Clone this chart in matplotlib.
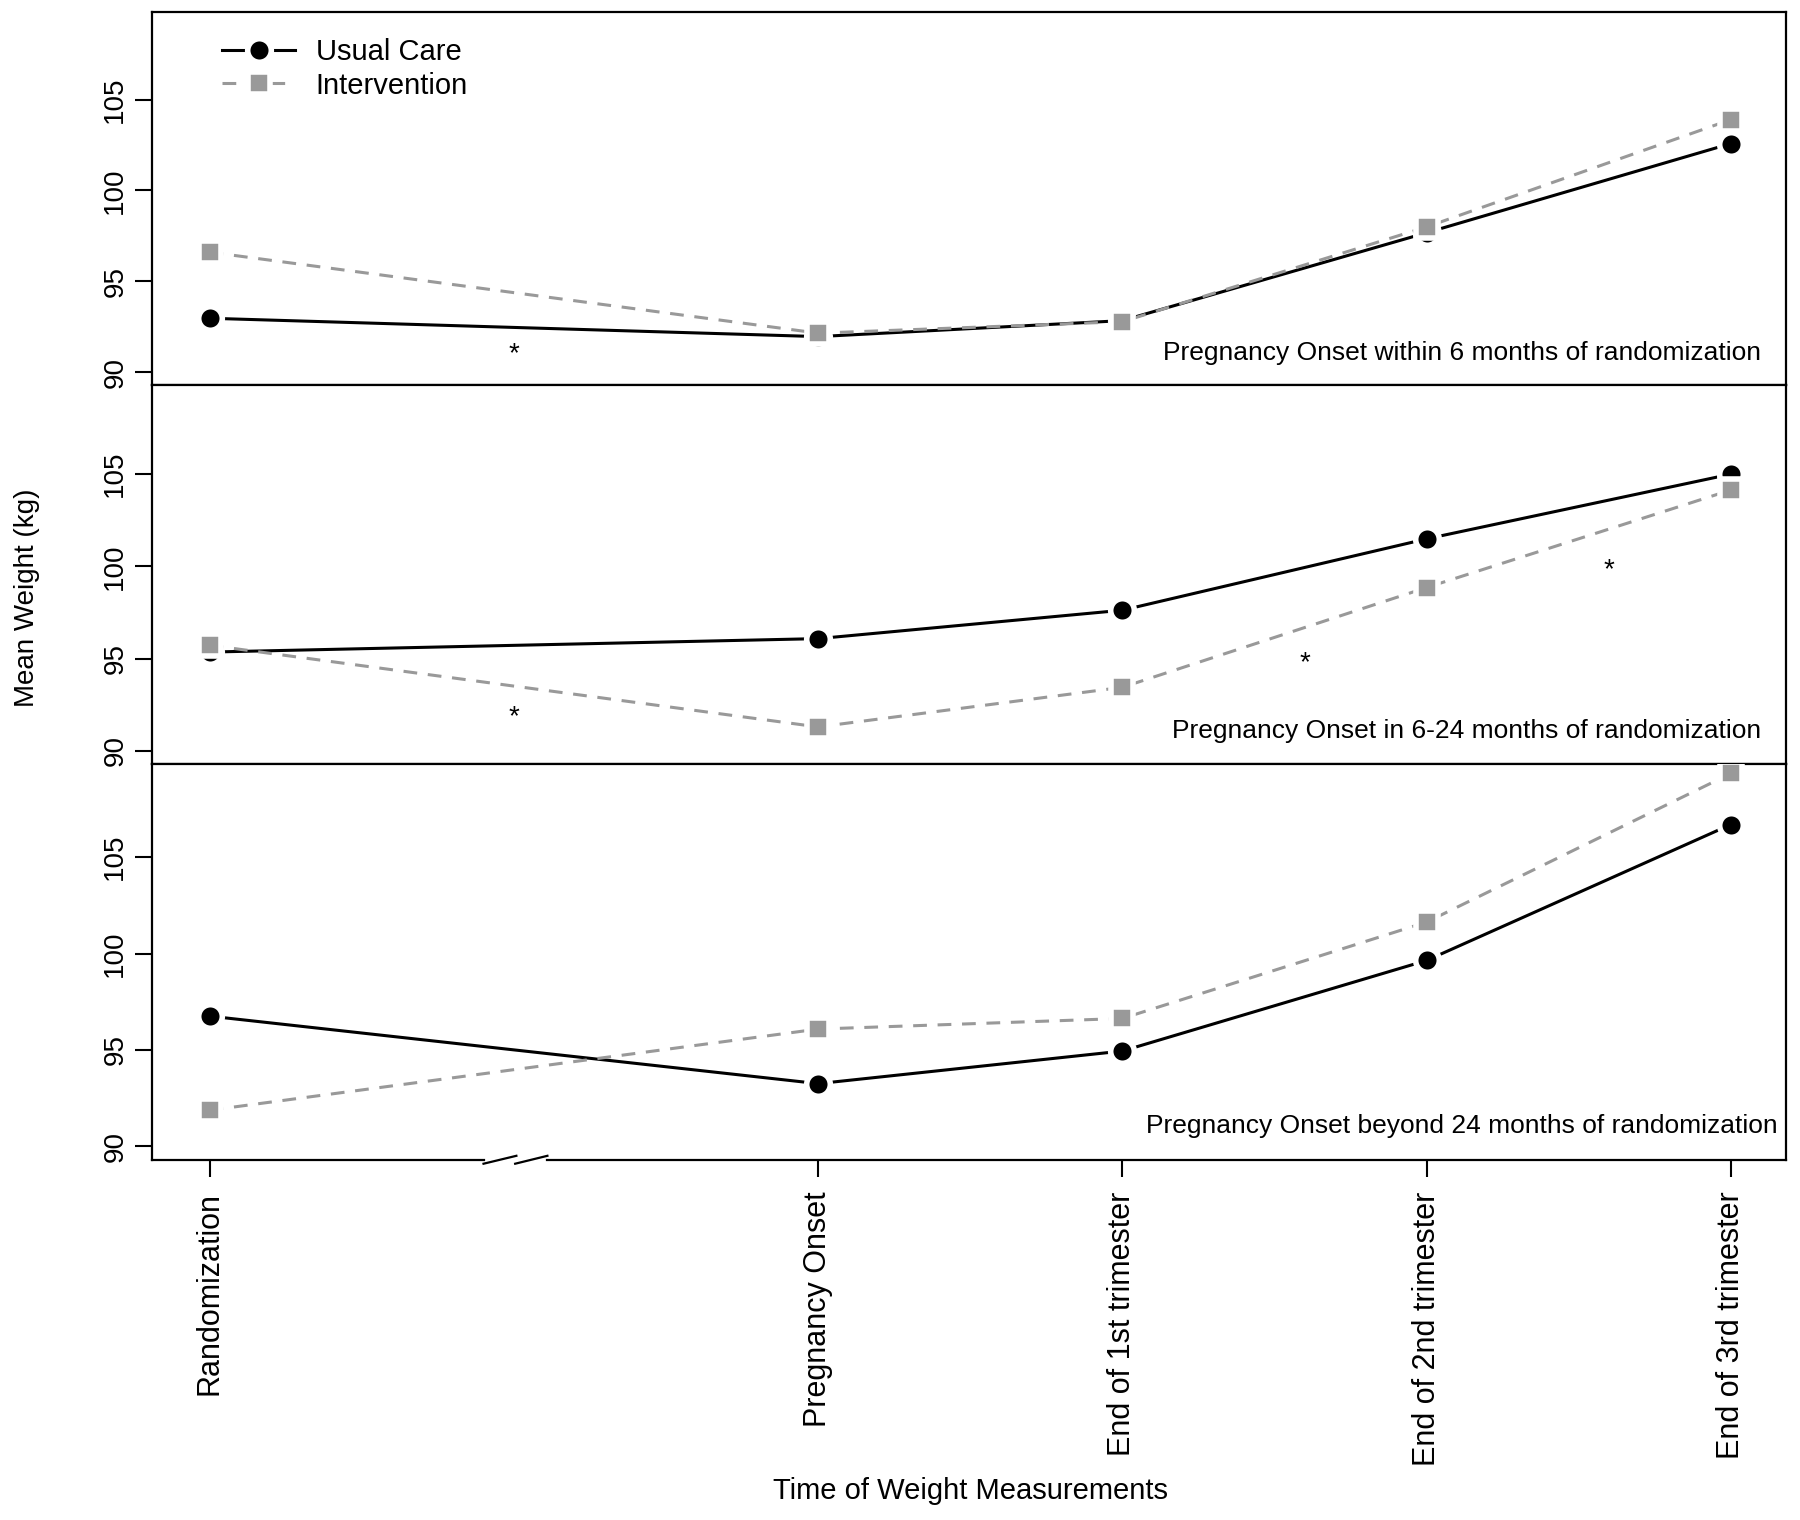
import matplotlib
matplotlib.use("Agg")
from matplotlib import pyplot as plt
from matplotlib import transforms

plt.rcParams["font.family"] = ["Liberation Sans", "DejaVu Sans"]

# time points (randomization -> pregnancy onset has an axis break in between)
time_labels = ["Randomization", "Pregnancy Onset", "End of 1st trimester",
               "End of 2nd trimester", "End of 3rd trimester"]
time_pos = [0, 2, 3, 4, 5]
break_pos = 1.0

panel_titles = [
    "Pregnancy Onset within 6 months of randomization",
    "Pregnancy Onset in 6-24 months of randomization",
    "Pregnancy Onset beyond 24 months of randomization",
]

usual_care = [
    [92.96, 91.95, 92.83, 97.67, 102.58],
    [95.35, 96.08, 97.62, 101.49, 105.0],
    [96.75, 93.25, 94.94, 99.64, 106.69],
]
intervention = [
    [96.6, 92.14, 92.77, 97.99, 103.9],
    [95.72, 91.29, 93.44, 98.85, 104.14],
    [91.87, 96.08, 96.63, 101.63, 109.34],
]

# significance stars (x, y) per panel
stars_x = [[1.0], [1.0, 3.6, 4.6], []]
stars_y = [[91.0], [91.8, 94.75, 99.8], []]

yticks = [90, 95, 100, 105]

fig, axes = plt.subplots(3, 1, figsize=(18, 15.2), dpi=100, sharex=True,
                         gridspec_kw={"height_ratios": [325, 330, 345], "hspace": 0})
fig.subplots_adjust(left=0.0844, right=0.992, top=0.9924, bottom=0.237)

for i, ax in enumerate(axes):
    ax.plot(time_pos, usual_care[i], "-", color="black", lw=2.2,
            marker="o", ms=17, mfc="black", mec="white", mew=4,
            label="Usual Care", zorder=3)
    ax.plot(time_pos, intervention[i], "--", color="#999999", lw=2.2,
            dashes=(4.5, 3.5), marker="s", ms=16, mfc="#999999", mec="white", mew=4,
            label="Intervention", zorder=4)

    for sx, sy in zip(stars_x[i], stars_y[i]):
        ax.text(sx, sy, "*", ha="center", va="center", fontsize=20)

    ax.text(0.995 if i == 2 else 0.985, 0.085, panel_titles[i], transform=ax.transAxes,
            ha="right", va="center", fontsize=19)

    ax.set_ylim(89.3, 109.85)
    ax.set_yticks(yticks)
    ax.set_yticklabels([str(t) for t in yticks], rotation=90, va="center", fontsize=20)
    ax.tick_params(axis="y", length=12, width=1.5, pad=5)
    for s in ax.spines.values():
        s.set_linewidth(1.6)

axes[0].legend(loc="upper left", bbox_to_anchor=(0.027, 1.0), frameon=False,
               fontsize=21, handlelength=2.5, handletextpad=0.7, labelspacing=0.2)

ax = axes[2]
ax.set_xlim(-0.19, 5.18)
ax.set_xticks(time_pos)
ax.set_xticklabels(time_labels, rotation=90, fontsize=22)
ax.tick_params(axis="x", length=12, width=1.5, pad=11)
for a in axes[:2]:
    a.tick_params(axis="x", length=0)

# broken bottom axis
ax.spines["bottom"].set_visible(False)
tr = transforms.blended_transform_factory(ax.transData, ax.transAxes)
xl = ax.get_xlim()
ax.plot([xl[0], break_pos - 0.1], [0, 0], color="black", lw=1.6, transform=tr, clip_on=False)
ax.plot([break_pos + 0.11, xl[1]], [0, 0], color="black", lw=1.6, transform=tr, clip_on=False)
ax.plot([break_pos - 0.1, break_pos + 0.008], [-0.01, 0.01], color="black", lw=1.6,
        transform=tr, clip_on=False)
ax.plot([break_pos + 0.004, break_pos + 0.11], [-0.01, 0.01], color="black", lw=1.6,
        transform=tr, clip_on=False)

fig.text(0.539, 0.019, "Time of Weight Measurements", ha="center", va="center", fontsize=21)
fig.text(0.015, 0.607, "Mean Weight (kg)", ha="center", va="center", rotation=90, fontsize=20)

fig.savefig("out.png", dpi=100)
